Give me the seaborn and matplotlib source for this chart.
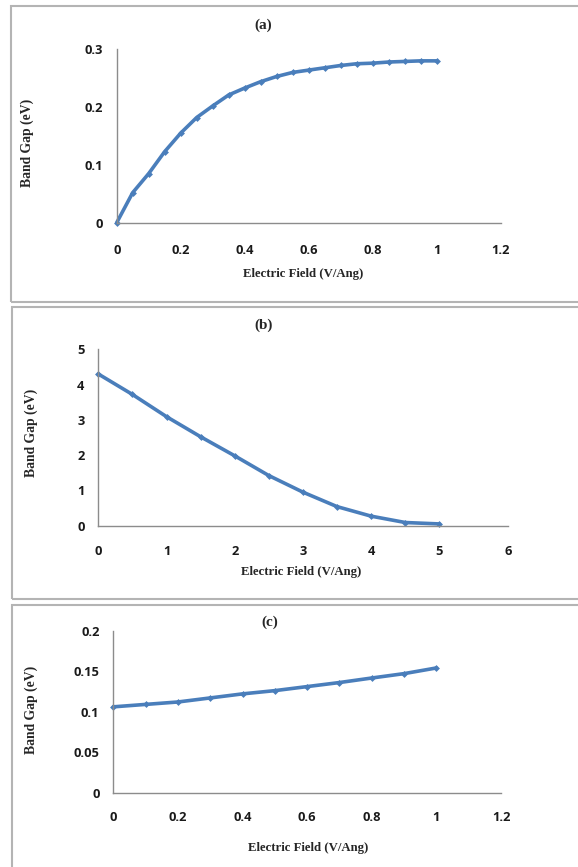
import matplotlib
matplotlib.use("Agg")
import matplotlib.pyplot as plt
from matplotlib.patches import Rectangle
import seaborn as sns
import pandas as pd

# ---- data ----
field_a = [0, 0.05, 0.1, 0.15, 0.2, 0.25, 0.3, 0.35, 0.4, 0.45, 0.5,
           0.55, 0.6, 0.65, 0.7, 0.75, 0.8, 0.85, 0.9, 0.95, 1.0]
gap_a = [0, 0.052, 0.085, 0.123, 0.155, 0.182, 0.202, 0.221, 0.233, 0.244, 0.253,
         0.26, 0.264, 0.268, 0.272, 0.275, 0.276, 0.278, 0.279, 0.28, 0.28]

field_b = [0, 0.5, 1.0, 1.5, 2.0, 2.5, 3.0, 3.5, 4.0, 4.5, 5.0]
gap_b = [4.30, 3.72, 3.09, 2.52, 1.98, 1.42, 0.95, 0.54, 0.27, 0.09, 0.05]

field_c = [0, 0.1, 0.2, 0.3, 0.4, 0.5, 0.6, 0.7, 0.8, 0.9, 1.0]
gap_c = [0.106, 0.109, 0.112, 0.117, 0.122, 0.126, 0.131, 0.136, 0.1416, 0.147, 0.154]

xticks_a = [0, 0.2, 0.4, 0.6, 0.8, 1.0, 1.2]
xticklabels_a = ["0", "0.2", "0.4", "0.6", "0.8", "1", "1.2"]
yticks_a = [0, 0.1, 0.2, 0.3]
yticklabels_a = ["0", "0.1", "0.2", "0.3"]

xticks_b = [0, 1, 2, 3, 4, 5, 6]
xticklabels_b = ["0", "1", "2", "3", "4", "5", "6"]
yticks_b = [0, 1, 2, 3, 4, 5]
yticklabels_b = ["0", "1", "2", "3", "4", "5"]

xticks_c = [0, 0.2, 0.4, 0.6, 0.8, 1.0, 1.2]
xticklabels_c = ["0", "0.2", "0.4", "0.6", "0.8", "1", "1.2"]
yticks_c = [0, 0.05, 0.1, 0.15, 0.2]
yticklabels_c = ["0", "0.05", "0.1", "0.15", "0.2"]

titles = ["(a)", "(b)", "(c)"]
xlabel = "Electric Field (V/Ang)"
ylabel = "Band Gap (eV)"

# ---- figure ----
sns.set_theme(style="white")
W, H = 578, 867
fig = plt.figure(figsize=(W / 100, H / 100), dpi=100)
fig.patch.set_facecolor("white")

LINE = "#4A7EBB"
GRAY = "#8c8c8c"
SERIF = ["Liberation Serif", "DejaVu Serif"]
SANS = ["Open Sans", "DejaVu Sans"]


def px_rect(left, top, right, bottom):
    return [left / W, 1 - bottom / H, (right - left) / W, (bottom - top) / H]


# outer frames
for (l, t, r, b) in [(10.7, 5.7, 590, 301.7), (12.3, 306.7, 590, 599), (12.3, 605, 590, 880)]:
    fig.add_artist(Rectangle((l / W, 1 - b / H), (r - l) / W, (b - t) / H,
                             transform=fig.transFigure, fill=False,
                             edgecolor="#b4b4b4", linewidth=1.5))

panels = [
    dict(x=field_a, y=gap_a, rect=px_rect(116.7, 49.3, 500.7, 222.7),
         xt=xticks_a, xtl=xticklabels_a, yt=yticks_a, ytl=yticklabels_a,
         xlim=(0, 1.2), ylim=(0, 0.3), title_xy=(263, 25), xlab_xy=(303, 274),
         ylab_xy=(27, 143), xpad=11),
    dict(x=field_b, y=gap_b, rect=px_rect(98.3, 349.3, 507.7, 525.7),
         xt=xticks_b, xtl=xticklabels_b, yt=yticks_b, ytl=yticklabels_b,
         xlim=(0, 6), ylim=(0, 5), title_xy=(264, 325), xlab_xy=(301, 572),
         ylab_xy=(31, 433), xpad=10),
    dict(x=field_c, y=gap_c, rect=px_rect(113.3, 630.7, 501, 792.7),
         xt=xticks_c, xtl=xticklabels_c, yt=yticks_c, ytl=yticklabels_c,
         xlim=(0, 1.2), ylim=(0, 0.2), title_xy=(270, 622), xlab_xy=(308, 848),
         ylab_xy=(31, 710), xpad=9),
]

for p, title in zip(panels, titles):
    ax = fig.add_axes(p["rect"])
    df = pd.DataFrame({"x": p["x"], "y": p["y"]})
    sns.lineplot(data=df, x="x", y="y", ax=ax, color=LINE, linewidth=2.6,
                 marker="D", markersize=3.5, markeredgewidth=0, clip_on=False)
    ax.set_xlim(*p["xlim"])
    ax.set_ylim(*p["ylim"])
    ax.set_xticks(p["xt"])
    ax.set_xticklabels(p["xtl"])
    ax.set_yticks(p["yt"])
    ax.set_yticklabels(p["ytl"])
    ax.set_xlabel("")
    ax.set_ylabel("")
    for s in ["top", "right"]:
        ax.spines[s].set_visible(False)
    for s in ["left", "bottom"]:
        ax.spines[s].set_color(GRAY)
        ax.spines[s].set_linewidth(1.0)
    ax.tick_params(axis="both", which="major", direction="out", length=4,
                   width=1.0, color=GRAY, labelcolor="#1a1a1a")
    ax.tick_params(axis="x", pad=p["xpad"])
    ax.tick_params(axis="y", pad=6)
    for lab in ax.get_xticklabels() + ax.get_yticklabels():
        lab.set_family(SANS)
        lab.set_fontweight("bold")
        lab.set_fontsize(9.3)
    ax.set_facecolor("white")

    fig.text(p["title_xy"][0] / W, 1 - p["title_xy"][1] / H, title,
             ha="center", va="center", family=SERIF, fontweight="bold", fontsize=11)
    fig.text(p["xlab_xy"][0] / W, 1 - p["xlab_xy"][1] / H, xlabel,
             ha="center", va="center", family=SERIF, fontweight="bold", fontsize=9.2)
    fig.text(p["ylab_xy"][0] / W, 1 - p["ylab_xy"][1] / H, ylabel,
             ha="center", va="center", rotation=90, family=SERIF,
             fontweight="bold", fontsize=9.8)

fig.savefig("out.png", dpi=100)
